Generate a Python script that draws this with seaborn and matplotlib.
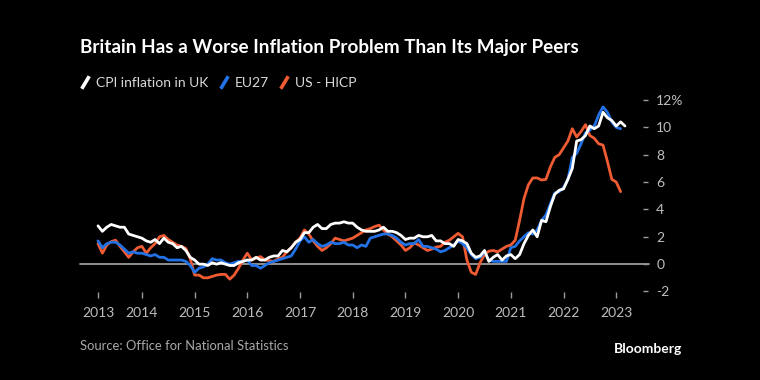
import matplotlib
matplotlib.use("Agg")
import matplotlib.pyplot as plt
import numpy as np
import pandas as pd
import seaborn as sns
from matplotlib.lines import Line2D

# ---------------- data (monthly, from Mar 2013) ----------------
start_month = "2013-03-01"

uk_cpi = [2.8, 2.4, 2.7, 2.9, 2.8, 2.7, 2.7, 2.2, 2.1, 2.0,
          1.9, 1.7, 1.6, 1.8, 1.5, 1.9, 1.6, 1.5, 1.2, 1.3, 1.0, 0.5,
          0.3, 0.0, 0.0, -0.1, 0.1, 0.0, 0.1, 0.0, -0.1, -0.1, 0.1, 0.2,
          0.3, 0.3, 0.5, 0.3, 0.3, 0.5, 0.6, 0.6, 1.0, 0.9, 1.2, 1.6,
          1.8, 2.3, 2.3, 2.7, 2.9, 2.6, 2.6, 2.9, 3.0, 3.0, 3.1, 3.0,
          3.0, 2.7, 2.5, 2.4, 2.4, 2.4, 2.5, 2.7, 2.4, 2.4, 2.3, 2.1,
          1.8, 1.9, 1.9, 2.1, 2.0, 2.0, 2.1, 1.7, 1.7, 1.5, 1.5, 1.3,
          1.8, 1.7, 1.5, 0.8, 0.5, 0.6, 1.0, 0.2, 0.5, 0.7, 0.3, 0.6,
          0.7, 0.4, 0.7, 1.5, 2.1, 2.5, 2.0, 3.2, 3.1, 4.2, 5.1, 5.4,
          5.5, 6.2, 7.0, 9.0, 9.1, 9.4, 10.1, 9.9, 10.1, 11.1, 10.7, 10.5,
          10.1, 10.4, 10.1]

eu27 = [1.7, 1.2, 1.5, 1.6, 1.6, 1.4, 1.1, 0.8, 0.9, 0.8,
        0.8, 0.7, 0.6, 0.7, 0.5, 0.5, 0.3, 0.3, 0.3, 0.3, 0.2, -0.1,
        -0.6, -0.3, -0.2, 0.0, 0.4, 0.3, 0.3, 0.1, 0.0, 0.1, 0.2, 0.2,
        0.3, -0.1, -0.1, -0.3, -0.1, 0.1, 0.2, 0.3, 0.4, 0.5, 0.6, 1.1,
        1.7, 2.0, 1.6, 1.8, 1.5, 1.3, 1.4, 1.6, 1.5, 1.5, 1.6, 1.4,
        1.4, 1.2, 1.4, 1.3, 1.9, 2.0, 2.1, 2.2, 2.2, 2.1, 1.9, 1.6,
        1.4, 1.5, 1.5, 1.8, 1.3, 1.3, 1.2, 1.1, 0.9, 1.0, 1.2, 1.4,
        1.7, 1.5, 1.2, 0.7, 0.4, 0.5, 0.9, 0.3, 0.2, 0.2, 0.2, 0.2,
        1.2, 1.3, 1.7, 2.0, 2.3, 2.2, 2.5, 3.2, 3.6, 4.4, 5.2, 5.3,
        5.6, 6.2, 7.8, 8.1, 8.8, 9.6, 9.8, 10.1, 10.9, 11.5, 11.1, 10.4,
        10.0, 9.9]

us_hicp = [1.5, 0.8, 1.4, 1.65, 1.75, 1.3, 0.9, 0.5, 0.9, 1.2,
           1.3, 0.8, 1.2, 1.5, 2.0, 2.1, 1.8, 1.6, 1.4, 1.3, 1.15, 0.4,
           -0.8, -0.8, -1.0, -1.0, -0.9, -0.8, -0.75, -0.75, -1.1, -0.8, -0.3, 0.3,
           0.8, 0.3, 0.45, 0.55, 0.3, 0.25, 0.2, 0.4, 0.5, 0.9, 1.2, 1.6,
           1.9, 2.5, 2.2, 1.7, 1.3, 1.0, 1.2, 1.5, 1.9, 1.8, 1.7, 1.8,
           1.9, 2.1, 2.3, 2.5, 2.6, 2.75, 2.85, 2.5, 2.2, 2.0, 1.7, 1.4,
           1.0, 1.2, 1.55, 1.4, 1.2, 1.0, 1.1, 1.25, 1.3, 1.6, 1.75, 2.0,
           2.25, 2.0, 0.3, -0.6, -0.75, 0.1, 0.7, 0.95, 1.0, 0.9, 1.1, 1.3,
           1.4, 1.75, 3.2, 4.8, 5.8, 6.3, 6.3, 6.15, 6.2, 7.1, 7.8, 8.0,
           8.5, 9.0, 9.9, 9.3, 9.7, 10.2, 9.4, 9.2, 8.8, 8.7, 7.5, 6.2,
           6.0, 5.3]

series_names = ["CPI inflation in UK", "EU27", "US - HICP"]
series_colors = ["#ffffff", "#2272e6", "#ef5b32"]

x_tick_years = ["2013", "2014", "2015", "2016", "2017", "2018",
                "2019", "2020", "2021", "2022", "2023"]
y_ticks = [-2, 0, 2, 4, 6, 8, 10, 12]
y_tick_labels = ["-2", "0", "2", "4", "6", "8", "10", "12%"]

title = "Britain Has a Worse Inflation Problem Than Its Major Peers"
source = "Source: Office for National Statistics"

# ---------------- build table ----------------
def frac_years(n):
    d = pd.date_range(start_month, periods=n, freq="MS")
    return d.year + (d.month - 1) / 12.0

frames = []
for name, vals in zip(series_names, [uk_cpi, eu27, us_hicp]):
    frames.append(pd.DataFrame({"t": frac_years(len(vals)), "value": vals, "series": name}))
df = pd.concat(frames, ignore_index=True)

# ---------------- style ----------------
sns.set_theme(style="dark")
plt.rcParams["font.family"] = ["Lato", "DejaVu Sans"]
BG = "#000000"

fig = plt.figure(figsize=(7.6, 3.8), dpi=100, facecolor=BG)
W, H = 760, 380
ax_l, ax_r, ax_t, ax_b = 80, 643, 100, 291.5
ax = fig.add_axes([ax_l / W, 1 - ax_b / H, (ax_r - ax_l) / W, (ax_b - ax_t) / H])
ax.set_facecolor(BG)

t0 = frac_years(1)[0]
px_per_year = 52.7
ax.set_xlim(t0 - (98 - ax_l) / px_per_year, t0 + (ax_r - 98) / px_per_year)
ax.set_ylim(-2, 12)

# zero line
ax.axhline(0, xmin=0, xmax=1 + 6 / (ax_r - ax_l), color="#9a9a9a", lw=1.3,
           clip_on=False, zorder=1)

sns.lineplot(data=df, x="t", y="value", hue="series",
             hue_order=series_names[::-1],
             palette=dict(zip(series_names, series_colors)),
             linewidth=2.0, legend=False, ax=ax, zorder=3)

for s in ax.spines.values():
    s.set_visible(False)
ax.grid(False)
ax.set_xlabel("")
ax.set_ylabel("")

xt = [t0] + [int(y) for y in x_tick_years[1:]]
ax.set_xticks(xt)
ax.set_xticklabels(x_tick_years)
ax.yaxis.tick_right()
ax.set_yticks(y_ticks)
ax.set_yticklabels(y_tick_labels)

tick_col = "#bdbdbd"
ax.tick_params(axis="x", bottom=True, direction="out", length=4, width=1,
               color="#9a9a9a", pad=7, labelsize=10, labelcolor=tick_col)
ax.tick_params(axis="y", right=True, left=False, labelleft=False, labelright=True,
               direction="out", length=3.5, width=1, color="#9a9a9a",
               pad=6, labelsize=10, labelcolor=tick_col)

# ---------------- texts ----------------
fig.text(ax_l / W, 1 - 47 / H, title, color="white", fontsize=13.6,
         fontweight="bold", va="center", ha="left")

# legend
handles = [Line2D([], [], linestyle="none", marker=[(-0.6, -1), (0.6, 1)],
                  markersize=9, markeredgewidth=2.6, color=c, markeredgecolor=c)
           for c in series_colors]
leg = fig.legend(handles, series_names, loc="center left",
                 bbox_to_anchor=(80 / W, 1 - 83 / H), ncol=3, frameon=False,
                 handlelength=0.7, handletextpad=0.45, columnspacing=0.75,
                 fontsize=10.0, labelcolor="#d9d9d9", borderaxespad=0, borderpad=0)

fig.text(ax_l / W, 1 - 346 / H, source, color="#a8a8a8", fontsize=9.4,
         va="center", ha="left")
fig.text(682 / W, 1 - 349 / H, "Bloomberg", color="white", fontsize=10,
         fontweight="bold", va="center", ha="right")

fig.savefig("out.png", dpi=100, facecolor=BG)
